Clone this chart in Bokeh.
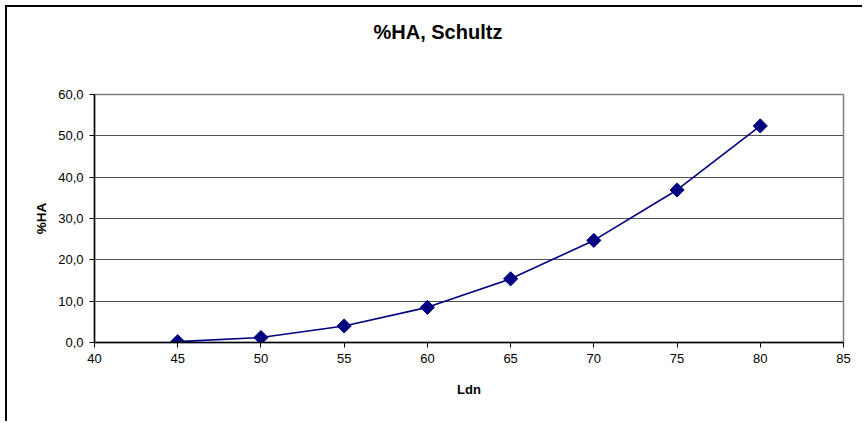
from bokeh.plotting import figure
from bokeh.models import FixedTicker, Title
from bokeh.embed import file_html
from bokeh.resources import INLINE

# Percentage highly annoyed (%HA) against day-night level Ldn, Schultz curve
ldn = [45, 50, 55, 60, 65, 70, 75, 80]
pct_ha = [0.2, 1.2, 4.0, 8.5, 15.4, 24.7, 36.9, 52.4]

x_ticks = [40, 45, 50, 55, 60, 65, 70, 75, 80, 85]
y_ticks = [0, 10, 20, 30, 40, 50, 60]
y_tick_labels = ["0,0", "10,0", "20,0", "30,0", "40,0", "50,0", "60,0"]

FONT = "Liberation Sans"
NAVY = "#000080"

# the chart sits inside a black frame (left and top edges) drawn as a shadow
p = figure(
    width=857, height=416,
    x_range=(40, 85), y_range=(0, 60),
    output_backend="svg", toolbar_location=None,
    min_border_left=87, min_border_right=21,
    min_border_top=87, min_border_bottom=81,
    background_fill_color="white", border_fill_color="white",
    styles={"margin-left": "7px", "margin-top": "7px",
            "box-shadow": "-2px -2px 0px 0px black"},
)

# plot area border: grey top/right, black axes left/bottom
p.outline_line_color = "#808080"
p.outline_line_width = 1.5

p.xgrid.visible = False
p.ygrid.grid_line_color = "#505050"
p.ygrid.grid_line_width = 1

for ax in (p.xaxis[0], p.yaxis[0]):
    ax.axis_line_color = "black"
    ax.axis_line_width = 1.5
    ax.major_tick_line_color = "black"
    ax.major_tick_line_width = 1
    ax.major_tick_out = 5
    ax.major_tick_in = 0
    ax.minor_tick_line_color = None
    ax.major_label_text_font = FONT
    ax.major_label_text_font_size = "13px"
    ax.major_label_text_color = "black"
    ax.axis_label_text_font = FONT
    ax.axis_label_text_font_style = "bold"
    ax.axis_label_text_color = "black"

p.xaxis.ticker = FixedTicker(ticks=x_ticks)
p.yaxis.ticker = FixedTicker(ticks=y_ticks)
p.yaxis.major_label_overrides = {t: s for t, s in zip(y_ticks, y_tick_labels)}
p.xaxis.major_label_standoff = 6
p.yaxis.major_label_standoff = 6

p.xaxis.axis_label = "Ldn"
p.xaxis.axis_label_text_font_size = "13px"
p.xaxis.axis_label_standoff = 16
p.yaxis.axis_label = "%HA"
p.yaxis.axis_label_text_font_size = "13.5px"
p.yaxis.axis_label_standoff = 6

# curve and diamond markers
p.line(ldn, pct_ha, line_color=NAVY, line_width=1.6)
p.scatter(ldn, pct_ha, marker="square", angle=0.7853981634, size=10,
          fill_color=NAVY, line_color=NAVY)

# chart title; two trailing blank lines lift it well above the plot area
p.title = None
p.add_layout(Title(text="%HA, Schultz\n\u00a0\n\u00a0", align="left", offset=279,
                   text_font=FONT, text_font_size="20px",
                   text_font_style="bold", text_color="black",
                   text_line_height=1.05, standoff=10), "above")

open("out.html", "w").write(file_html(p, INLINE))
